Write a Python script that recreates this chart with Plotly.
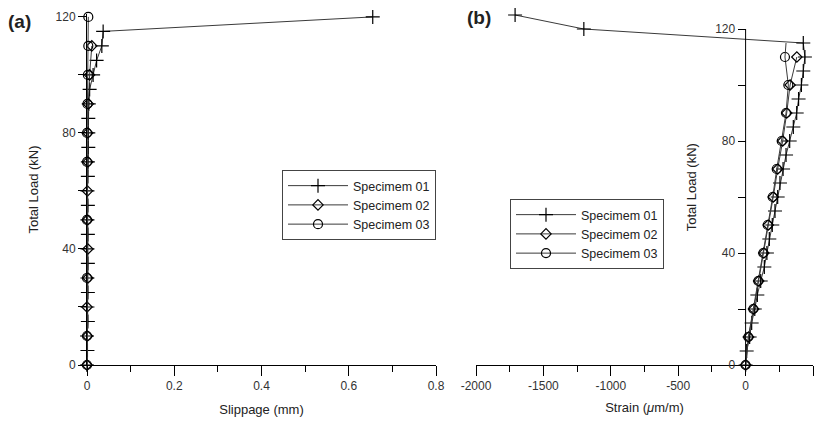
import plotly.graph_objects as go

# ---------------- data ----------------
# (a) slippage
load_s01_a = [0, 5, 10, 15, 20, 25, 30, 35, 40, 45, 50, 55, 60, 65, 70, 75, 80, 85, 90, 95, 100, 105, 110, 115, 120]
slip_s01 = [0, 0.001, 0.0, 0.002, 0.001, 0.002, 0.001, 0.002, 0.001, 0.002, 0.001, 0.002, 0.001, 0.002, 0.002, 0.003,
            0.003, 0.003, 0.004, 0.006, 0.014, 0.022, 0.034, 0.037, 0.655]
load_s02_a = [0, 10, 20, 30, 40, 50, 60, 70, 80, 90, 100, 110]
slip_s02 = [0, 0.001, 0.0, 0.002, 0.002, 0.001, 0.001, 0.002, 0.002, 0.003, 0.006, 0.011]
load_s03_a = [0, 10, 20, 30, 40, 50, 60, 70, 80, 90, 100, 110, 120]
slip_s03 = [0, 0.0, -0.001, 0.0, -0.001, 0.0, -0.001, 0.0, 0.0, 0.001, 0.002, 0.003, 0.003]

# (b) strain
load_s01_b = [0, 5, 10, 15, 20, 25, 30, 35, 40, 45, 50, 55, 60, 65, 70, 75, 80, 85, 90, 95, 100, 105, 110, 115, 120, 125]
strain_s01 = [0, 8, 30, 45, 68, 87, 112, 139, 158, 176, 198, 218, 238, 255, 278, 300, 327, 354, 379, 393, 414, 428, 440, 428,
              -1200, -1710]
load_s02_b = [0, 10, 20, 30, 40, 50, 60, 70, 80, 90, 100, 110]
strain_s02 = [0, 22, 60, 97, 135, 168, 205, 238, 275, 305, 330, 380]
load_s03_b = [0, 10, 20, 30, 40, 50, 60, 70, 80, 90, 100, 110, 115]
strain_s03 = [0, 20, 57, 94, 131, 164, 201, 231, 268, 300, 317, 292, 300]

names = ["Specimem 01", "Specimem 02", "Specimem 03"]
symbols = ["cross-thin-open", "diamond-open", "circle-open"]
msizes = [10, 8, 9]

x_ticks_a = [0, 0.2, 0.4, 0.6, 0.8]
x_ticklabels_a = ["0", "0.2", "0.4", "0.6", "0.8"]
x_ticks_b = [-2000, -1500, -1000, -500, 0, 500]
x_ticklabels_b = ["-2000", "-1500", "-1000", "-500", "0", "500"]
y_ticks = [0, 40, 80, 120]

LINE = "#3a3a3a"
FONT = "Liberation Sans, Arial, sans-serif"

fig = go.Figure()

def add(x, y, i, xa, ya, leg, show=True, markers=True):
    fig.add_trace(go.Scatter(
        x=x, y=y, name=names[i], xaxis=xa, yaxis=ya, legend=leg, showlegend=show,
        mode="lines+markers" if markers else "lines",
        line=dict(color=LINE, width=1),
        marker=dict(symbol=symbols[i], size=msizes[i], color="black",
                    line=dict(color="black", width=1.2)),
        cliponaxis=False))

# panel (a)
add(slip_s01, load_s01_a, 0, "x", "y", "legend")
add(slip_s02, load_s02_a, 1, "x", "y", "legend")
add(slip_s03, load_s03_a, 2, "x", "y", "legend")
# panel (b)
add(strain_s01, load_s01_b, 0, "x2", "y2", "legend2")
add(strain_s02, load_s02_b, 1, "x2", "y2", "legend2")
add(strain_s03[:-1], load_s03_b[:-1], 2, "x2", "y2", "legend2")
add(strain_s03[-2:], load_s03_b[-2:], 2, "x2", "y2", "legend2", show=False, markers=False)

W, H = 823, 421
def px(xp):
    return xp / W
def py(yp):
    return (H - yp) / H

xa_dom = [px(87), px(436)]
xb_dom = [px(476), px(813)]
ya_top = 17
y_bottom = 365
yb_range_top = 127
ppk = (365 - 253) / 40.0
yb_top = 365 - yb_range_top * ppk

tickfont = dict(family=FONT, size=12, color="#333")
titlefont = dict(family=FONT, size=13, color="#222")

common_x = dict(showline=True, linecolor="black", linewidth=1, ticks="outside", tickcolor="black",
                tickwidth=1, showgrid=False, zeroline=False, tickfont=tickfont, automargin=False)

legfont = dict(family=FONT, size=12.5, color="#222")

fig.update_layout(
    width=W, height=H, margin=dict(l=0, r=0, t=0, b=0),
    paper_bgcolor="white", plot_bgcolor="white",
    font=dict(family=FONT, color="#222"),
    xaxis=dict(**common_x, domain=xa_dom, anchor="y", range=[0, 0.8],
               tickvals=x_ticks_a, ticktext=x_ticklabels_a, ticklen=10,
               minor=dict(tickvals=[0.1, 0.3, 0.5, 0.7], ticklen=6, ticks="outside", tickcolor="black"),
               title=dict(text="Slippage (mm)", font=titlefont, standoff=12)),
    yaxis=dict(**common_x, domain=[py(y_bottom), py(ya_top - 3)], anchor="x",
               range=[0, 121], tickvals=y_ticks, ticklen=8,
               minor=dict(tickvals=[20, 60, 100], ticklen=8, ticks="outside", tickcolor="black"),
               title=dict(text="Total Load (kN)", font=titlefont, standoff=14)),
    xaxis2=dict(**common_x, domain=xb_dom, anchor="y2", range=[-2000, 500],
                tickvals=x_ticks_b, ticktext=x_ticklabels_b, ticklen=10,
                minor=dict(tickvals=[-1750, -1250, -750, -250, 250], ticklen=6, ticks="outside", tickcolor="black"),
                title=dict(text="Strain (<i>μ</i>m/m)", font=titlefont, standoff=10)),
    yaxis2=dict(showline=False, ticks="outside", tickcolor="black", tickwidth=1, showgrid=False, zeroline=False,
                tickfont=tickfont, automargin=False,
                domain=[py(y_bottom), py(yb_top)], anchor="free",
                position=xb_dom[0] + 0.8 * (xb_dom[1] - xb_dom[0]),
                range=[0, yb_range_top], tickvals=y_ticks, ticklen=8,
                minor=dict(tickvals=[20, 60, 100], ticklen=8, ticks="outside", tickcolor="black"),
                title=dict(text="Total Load (kN)", font=titlefont, standoff=14)),
    legend=dict(x=px(282), y=py(170), xanchor="left", yanchor="top", bgcolor="white",
                bordercolor="#444", borderwidth=1, font=legfont,
                tracegroupgap=0, itemwidth=60),
    legend2=dict(x=px(510), y=py(199), xanchor="left", yanchor="top", bgcolor="white",
                 bordercolor="#444", borderwidth=1, font=legfont,
                 tracegroupgap=0, itemwidth=60),
)

# y-axis line of panel (b) ends at the 120 tick
fig.add_shape(type="line", xref="x2", yref="y2", x0=0, x1=0, y0=0, y1=120,
              line=dict(color="black", width=1))

fig.add_annotation(text="<b>(a)</b>", xref="paper", yref="paper", x=px(6), y=py(21),
                   xanchor="left", yanchor="middle", showarrow=False,
                   font=dict(family=FONT, size=19, color="#222"))
fig.add_annotation(text="<b>(b)</b>", xref="paper", yref="paper", x=px(465), y=py(17),
                   xanchor="left", yanchor="middle", showarrow=False,
                   font=dict(family=FONT, size=19, color="#222"))

fig.write_html("out.html")
